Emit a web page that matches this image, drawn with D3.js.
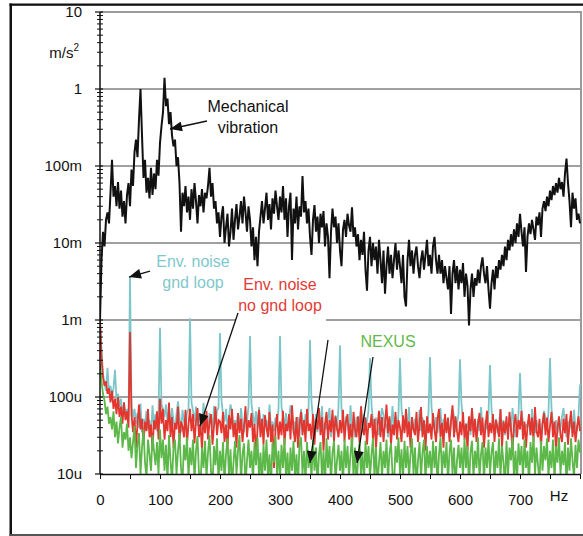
<!DOCTYPE html>
<html>
<head>
<meta charset="utf-8">
<script src="https://cdn.jsdelivr.net/npm/d3@7"></script>
<style>
  html, body { margin: 0; padding: 0; background: #fff; }
  svg { display: block; font-family: "Liberation Sans", Arial, sans-serif; }
</style>
</head>
<body>
<svg id="chart" width="583" height="536"></svg>
<script>
// Spectra sampled every 2.5 Hz from 0 to 800 Hz
const STEP_HZ = 2.5;

// Mechanical vibration, mm/s^2
const mechanical_mm = [
  1.0, 6, 14, 9, 20, 25, 18, 45, 120, 40,
  55, 30, 62, 28, 48, 22, 35, 18, 42, 60,
  30, 90, 55, 150, 220, 130, 400, 1000, 250, 70,
  120, 45, 70, 38, 95, 42, 80, 50, 120, 75,
  200, 330, 500, 1400, 600, 750, 350, 500, 250, 180,
  220, 100, 130, 60, 14, 45, 30, 55, 25, 40,
  20, 50, 28, 60, 35, 18, 42, 30, 50, 25,
  45, 38, 55, 95, 40, 60, 28, 35, 18, 25,
  12, 22, 30, 10, 16, 24, 9, 14, 28, 11,
  20, 32, 15, 22, 35, 18, 40, 25, 14, 30,
  20, 9, 16, 6, 12, 5, 14, 22, 35, 18,
  28, 45, 20, 32, 15, 38, 24, 48, 30, 20,
  40, 25, 55, 20, 38, 12, 30, 45, 6, 28,
  18, 40, 15, 30, 22, 74, 25, 35, 18, 28,
  12, 7, 20, 31, 14, 22, 10, 24, 16, 26,
  9, 18, 12, 3.5, 14, 28, 16, 22, 10, 18,
  8, 5, 15, 20, 12, 24, 17, 14, 29, 12,
  16, 9, 13, 6, 11, 7, 14, 4.5, 2.4, 8,
  12, 5, 10, 6, 9, 4, 11, 6, 3, 8,
  2.2, 5, 9, 4, 7, 3.5, 6, 10, 4.5, 8,
  5, 3, 7, 2, 1.5, 6, 11, 5, 8, 4,
  7, 9, 5, 3.5, 6, 8, 4.5, 7, 11, 5,
  7, 4, 9, 12, 6, 4, 7, 4, 6, 3,
  5, 3.5, 2.5, 5, 1.2, 4, 6, 3, 5, 2.5,
  4.5, 3, 5.5, 2, 4, 2.8, 0.85, 2.5, 4, 2,
  3.5, 2.8, 4.5, 3, 5, 6.5, 4, 3, 5, 2.5,
  1.4, 3, 4.5, 2.5, 5, 3.5, 6, 4.5, 7, 5,
  9, 6, 11, 8, 13, 9, 15, 10, 18, 12,
  24, 14, 9, 16, 4.2, 12, 18, 13, 20, 15,
  11, 22, 17, 25, 12, 28, 35, 26, 40, 30,
  48, 36, 55, 42, 60, 45, 70, 50, 62, 40,
  80, 125, 60, 35, 16, 45, 28, 38, 20, 24,
  18
];

// Environmental noise with ground loop, um/s^2
const gndLoop_u = [
  1100, 420, 200, 150, 120, 240, 110, 140, 100, 130, 225, 90, 110, 75, 95, 60, 80, 55, 70, 48,
  3600, 75, 55, 70, 45, 62, 40, 82, 35, 52, 44, 66, 38, 50, 30, 78, 42, 60, 36, 58,
  790, 80, 70, 55, 80, 48, 65, 42, 72, 50, 38, 60, 88, 55, 35, 68, 48, 40, 62, 70,
  1050, 85, 65, 48, 75, 42, 60, 50, 38, 84, 45, 55, 36, 62, 48, 40, 76, 44, 66, 72,
  680, 90, 60, 48, 70, 40, 55, 80, 65, 36, 50, 42, 62, 38, 72, 44, 35, 58, 48, 75,
  620, 80, 58, 42, 65, 38, 74, 46, 35, 60, 44, 50, 32, 80, 40, 48, 36, 54, 45, 70,
  620, 75, 55, 40, 62, 36, 50, 78, 58, 34, 48, 40, 55, 30, 70, 52, 38, 60, 42, 68,
  550, 85, 52, 40, 60, 35, 48, 42, 76, 32, 46, 38, 54, 72, 30, 50, 40, 58, 36, 74,
  470, 70, 50, 38, 56, 44, 34, 78, 40, 46, 30, 55, 38, 48, 70, 35, 60, 40, 48, 66,
  320, 80, 48, 36, 54, 42, 32, 50, 72, 58, 40, 45, 30, 52, 36, 76, 40, 55, 34, 62,
  320, 70, 50, 36, 48, 40, 74, 32, 46, 38, 52, 42, 30, 68, 36, 54, 40, 44, 34, 64,
  330, 75, 46, 38, 55, 34, 48, 72, 32, 52, 42, 36, 50, 30, 46, 70, 56, 35, 44, 60,
  310, 80, 50, 36, 45, 40, 54, 32, 70, 38, 42, 30, 52, 36, 74, 40, 34, 50, 38, 62,
  260, 70, 45, 38, 52, 34, 46, 68, 36, 50, 32, 44, 38, 55, 35, 72, 48, 30, 40, 60,
  205, 65, 48, 36, 44, 40, 52, 32, 70, 38, 34, 50, 40, 45, 30, 48, 66, 54, 38, 64,
  320, 70, 46, 38, 50, 34, 44, 40, 55, 72, 42, 30, 48, 38, 52, 34, 68, 40, 36, 58,
  145
];

// Environmental noise without ground loop, um/s^2
const noGndLoop_u = [
  1000, 320, 180, 140, 160, 110, 130, 85, 120, 70, 95, 60, 100, 55, 75, 45, 85, 50, 65, 40,
  700, 60, 35, 55, 22, 45, 80, 38, 52, 24, 48, 36, 70, 30, 44, 20, 50, 38, 65, 28,
  95, 45, 70, 28, 50, 36, 85, 30, 55, 22, 46, 38, 75, 26, 48, 42, 30, 68, 24, 44,
  70, 36, 60, 25, 48, 72, 30, 44, 20, 58, 34, 66, 28, 46, 60, 24, 42, 75, 32, 50,
  48, 34, 64, 26, 44, 20, 58, 38, 70, 30, 46, 22, 62, 34, 52, 26, 42, 76, 30, 50,
  40, 62, 26, 45, 18, 38, 68, 30, 52, 24, 58, 40, 30, 64, 26, 44, 12, 38, 60, 28,
  48, 32, 66, 24, 45, 36, 60, 28, 78, 38, 26, 55, 22, 44, 64, 32, 50, 26, 70, 36,
  45, 28, 60, 24, 52, 38, 72, 32, 55, 20, 44, 64, 28, 50, 35, 68, 26, 56, 40, 30,
  50, 34, 68, 26, 48, 60, 28, 45, 22, 64, 38, 30, 56, 26, 76, 40, 32, 54, 24, 46,
  40, 60, 28, 52, 22, 42, 66, 30, 55, 26, 45, 80, 34, 56, 24, 44, 32, 64, 28, 50,
  40, 26, 58, 34, 70, 30, 48, 22, 55, 38, 32, 64, 26, 44, 74, 30, 50, 20, 56, 34,
  45, 28, 62, 38, 26, 52, 70, 30, 46, 22, 60, 34, 54, 26, 48, 78, 30, 56, 36, 26,
  48, 32, 64, 28, 45, 20, 56, 36, 72, 30, 52, 26, 44, 62, 32, 54, 22, 42, 66, 30,
  46, 34, 60, 26, 50, 40, 30, 70, 22, 48, 34, 56, 28, 64, 38, 20, 44, 60, 30, 50,
  38, 66, 28, 48, 22, 42, 60, 32, 54, 26, 74, 36, 30, 52, 22, 44, 62, 32, 54, 26,
  42, 64, 30, 48, 20, 40, 56, 32, 26, 52, 34, 60, 24, 44, 66, 30, 48, 26, 40, 56,
  36
];

// NEXUS amplifier noise floor, um/s^2
const nexus_u = [
  270, 160, 110, 90, 60, 75, 45, 55, 38, 65, 30, 48, 25, 40, 55, 22, 35, 28, 45, 20,
  30, 16, 26, 42, 12, 24, 34, 10, 22, 38, 14, 9, 28, 18, 11, 32, 20, 13, 26, 10,
  38, 16, 28, 11, 24, 8, 32, 15, 8, 22, 28, 10, 20, 34, 12, 8, 24, 15, 30, 9,
  22, 13, 28, 8, 20, 31, 10, 7, 22, 12, 27, 9, 19, 32, 11, 7, 23, 13, 29, 8,
  20, 11, 26, 8, 18, 29, 9, 21, 7, 14, 27, 10, 20, 32, 8, 18, 25, 7, 15, 28,
  12, 20, 8, 26, 13, 30, 9, 19, 7, 24, 11, 28, 9, 18, 7, 26, 14, 31, 10, 20,
  8, 24, 12, 29, 9, 19, 7, 22, 11, 27, 9, 18, 7, 24, 30, 10, 20, 8, 26, 12,
  19, 9, 28, 11, 22, 7, 18, 26, 9, 20, 7, 29, 12, 23, 8, 19, 27, 8, 15, 24,
  11, 20, 7, 28, 12, 23, 9, 18, 30, 9, 22, 7, 15, 26, 10, 19, 8, 27, 12, 23,
  9, 18, 29, 9, 22, 7, 14, 26, 9, 20, 12, 28, 8, 19, 25, 10, 7, 23, 14, 30,
  10, 21, 8, 27, 12, 23, 9, 18, 29, 10, 22, 7, 15, 26, 9, 19, 28, 8, 23, 12,
  20, 9, 27, 12, 23, 7, 18, 30, 10, 20, 12, 26, 8, 19, 28, 10, 22, 7, 15, 24,
  12, 22, 9, 29, 12, 23, 7, 19, 27, 9, 20, 12, 30, 9, 18, 26, 8, 22, 12, 28,
  10, 19, 26, 8, 20, 12, 29, 9, 23, 14, 7, 27, 10, 22, 15, 30, 9, 20, 8, 25,
  13, 23, 9, 28, 12, 20, 7, 26, 14, 31, 10, 22, 13, 8, 27, 11, 23, 15, 29, 9,
  20, 12, 28, 8, 23, 14, 30, 10, 20, 13, 26, 7, 22, 11, 29, 15, 9, 24, 12, 28,
  19
];

// Axis ticks
const yTickValues = [10, 1, 0.1, 0.01, 0.001, 1e-4, 1e-5];
const yTickLabels = ["10", "1", "100m", "10m", "1m", "100u", "10u"];
const xTickValues = [0, 50, 100, 150, 200, 250, 300, 350, 400, 450, 500, 550, 600, 650, 700, 750, 800];
const xLabelValues = [0, 100, 200, 300, 400, 500, 600, 700];

const COLORS = { mech: "#111111", gnd: "#7cc6ca", nognd: "#e2362f", nexus: "#5cb848" };

const svg = d3.select("#chart");
const plot = { left: 100, right: 580, top: 12, bottom: 474, edge: 581 };

const x = d3.scaleLinear().domain([0, 800]).range([plot.left, plot.right]);
const y = d3.scaleLog().domain([1e-5, 10]).range([plot.bottom, plot.top]);

const toSeries = (arr, unit) => arr.map((v, i) => ({ f: i * STEP_HZ, v: v * unit }));
const series = [
  { key: "gnd",   data: toSeries(gndLoop_u, 1e-6),      color: COLORS.gnd,   width: 1.8 },
  { key: "nognd", data: toSeries(noGndLoop_u, 1e-6),    color: COLORS.nognd, width: 1.8 },
  { key: "nexus", data: toSeries(nexus_u, 1e-6),        color: COLORS.nexus, width: 1.8 },
  { key: "mech",  data: toSeries(mechanical_mm, 1e-3),  color: COLORS.mech,  width: 2 }
];

// Outer frame
svg.append("rect").attr("x", 9.5).attr("y", 3.5).attr("width", 2.5).attr("height", 532.5).attr("fill", "#111");
svg.append("rect").attr("x", 9.5).attr("y", 3.5).attr("width", 573.5).attr("height", 2.3).attr("fill", "#111");
svg.append("rect").attr("x", 9.5).attr("y", 534).attr("width", 573.5).attr("height", 2).attr("fill", "#555");

// Decade gridlines
svg.append("g").selectAll("line")
  .data(yTickValues.slice(1, -1))
  .join("line")
  .attr("x1", plot.left).attr("x2", plot.edge)
  .attr("y1", d => y(d)).attr("y2", d => y(d))
  .attr("stroke", "#808080").attr("stroke-width", 1.5);

// Plot border, top and right
svg.append("path")
  .attr("d", `M${plot.left},${y(10)}H${plot.edge}V${plot.bottom}`)
  .attr("fill", "none").attr("stroke", "#9a9a9a").attr("stroke-width", 2);

// White box behind the red label
svg.append("rect").attr("x", 236).attr("y", 278).attr("width", 90).attr("height", 44).attr("fill", "#fff");

// Spectra
svg.append("clipPath").attr("id", "plot-clip")
  .append("rect").attr("x", plot.left).attr("y", plot.top)
  .attr("width", plot.edge - plot.left).attr("height", plot.bottom - plot.top);

const line = d3.line().x(d => x(d.f)).y(d => y(d.v));
svg.append("g").attr("clip-path", "url(#plot-clip)")
  .selectAll("path")
  .data(series)
  .join("path")
  .attr("d", d => line(d.data))
  .attr("fill", "none")
  .attr("stroke", d => d.color)
  .attr("stroke-width", d => d.width)
  .attr("stroke-linejoin", "miter")
  .attr("stroke-miterlimit", 3);

// Y axis with minor ticks
const yAxis = svg.append("g");
yAxis.append("line")
  .attr("x1", plot.left).attr("x2", plot.left)
  .attr("y1", plot.top).attr("y2", plot.bottom)
  .attr("stroke", "#111").attr("stroke-width", 1.5);

const minorTicks = [];
yTickValues.slice(1).forEach(dec => { for (let k = 2; k <= 9; k++) minorTicks.push(dec * k); });
yAxis.selectAll(".minor").data(minorTicks).join("line")
  .attr("class", "minor")
  .attr("x1", plot.left - 3).attr("x2", plot.left + 3)
  .attr("y1", d => y(d)).attr("y2", d => y(d))
  .attr("stroke", "#111").attr("stroke-width", 1);
yAxis.selectAll(".major").data(yTickValues).join("line")
  .attr("class", "major")
  .attr("x1", plot.left - 5).attr("x2", plot.left + 3)
  .attr("y1", d => y(d)).attr("y2", d => y(d))
  .attr("stroke", "#111").attr("stroke-width", 1.2);
yAxis.selectAll("text").data(yTickValues).join("text")
  .attr("x", 82).attr("y", d => y(d)).attr("dy", "0.35em")
  .attr("text-anchor", "end").attr("font-size", 15).attr("fill", "#111")
  .text((d, i) => yTickLabels[i]);

// Unit label
const unit = svg.append("text").attr("x", 79).attr("y", 58)
  .attr("text-anchor", "end").attr("font-size", 15).attr("fill", "#111");
unit.append("tspan").text("m/s");
unit.append("tspan").attr("dy", -7).attr("font-size", 10).text("2");

// X axis
const xAxis = svg.append("g")
  .attr("transform", `translate(0,${plot.bottom})`)
  .call(d3.axisBottom(x)
    .tickValues(xTickValues)
    .tickSize(5)
    .tickPadding(15)
    .tickFormat(d => xLabelValues.includes(d) ? String(d) : ""));
xAxis.select(".domain").attr("stroke", "#111").attr("stroke-width", 1.5)
  .attr("d", `M${plot.left},0.5H${plot.edge}`);
xAxis.selectAll(".tick line").attr("stroke", "#111").attr("stroke-width", 1);
xAxis.selectAll(".tick text")
  .attr("font-size", 15).attr("fill", "#111")
  .attr("font-family", "\"Liberation Sans\", Arial, sans-serif");

svg.append("text").attr("x", 559).attr("y", 501)
  .attr("text-anchor", "middle").attr("font-size", 15).attr("fill", "#111").text("Hz");

// Annotations
const defs = svg.append("defs");
defs.append("marker").attr("id", "arrowhead")
  .attr("markerUnits", "userSpaceOnUse")
  .attr("viewBox", "0 0 12 10")
  .attr("markerWidth", 13).attr("markerHeight", 10)
  .attr("refX", 12).attr("refY", 5)
  .attr("orient", "auto")
  .append("path").attr("d", "M0,0L12,5L0,10Z").attr("fill", "#111");

const labels = [
  { lines: ["Mechanical", "vibration"], x: 248, y: 112, color: "#111" },
  { lines: ["Env. noise", "gnd loop"], x: 193, y: 267, color: "#7fc8cc" },
  { lines: ["Env. noise", "no gnd loop"], x: 280, y: 290, color: "#e23c35" },
  { lines: ["NEXUS"], x: 388, y: 347, color: "#5fba4a" }
];
labels.forEach(l => {
  const t = svg.append("text").attr("text-anchor", "middle")
    .attr("font-size", 16).attr("fill", l.color);
  l.lines.forEach((s, i) => {
    t.append("tspan").attr("x", l.x).attr("y", l.y + i * 21).text(s);
  });
});

const arrows = [
  [207, 121, 170, 129],
  [150, 271, 129, 277],
  [238, 313, 200, 426],
  [328, 340, 310, 463],
  [373, 357, 357, 463]
];
svg.append("g").selectAll("line").data(arrows).join("line")
  .attr("x1", d => d[0]).attr("y1", d => d[1])
  .attr("x2", d => d[2]).attr("y2", d => d[3])
  .attr("stroke", "#111").attr("stroke-width", 1.3)
  .attr("marker-end", "url(#arrowhead)");
</script>
</body>
</html>
